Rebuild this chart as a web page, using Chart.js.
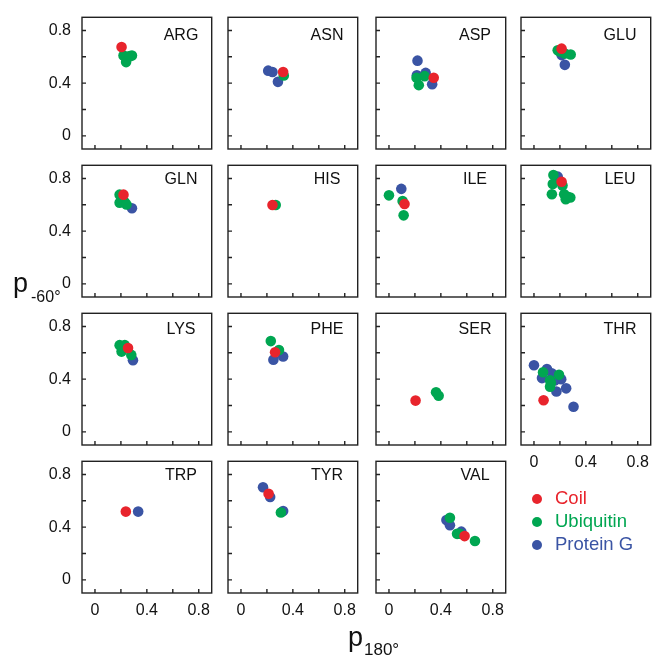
<!DOCTYPE html>
<html>
<head>
<meta charset="utf-8">
<script src="https://cdn.jsdelivr.net/npm/chart.js@4/dist/chart.umd.min.js"></script>
<style>
  body { margin: 0; background: #fff; width: 653px; height: 656px; overflow: hidden; position: relative;
         font-family: "Liberation Sans", Arial, Helvetica, sans-serif; color: #111; }
  canvas { position: absolute; }
  .txt { position: absolute; line-height: 1; white-space: nowrap; }
  .dot { position: absolute; width: 10px; height: 10px; border-radius: 50%; }
</style>
</head>
<body>
<script>
// residues, one panel each (row by row)
const residues = ['ARG', 'ASN', 'ASP', 'GLU', 'GLN', 'HIS', 'ILE', 'LEU',
                  'LYS', 'PHE', 'SER', 'THR', 'TRP', 'TYR', 'VAL'];

// [p180, p-60] pairs, index-aligned with residues
const coilPoints = [
  [[0.205, 0.674]],
  [[0.325, 0.485]],
  [[0.345, 0.441]],
  [[0.213, 0.662]],
  [[0.22, 0.677]],
  [[0.243, 0.598]],
  [[0.12, 0.606]],
  [[0.213, 0.775]],
  [[0.255, 0.636]],
  [[0.263, 0.604]],
  [[0.205, 0.237]],
  [[0.074, 0.24]],
  [[0.238, 0.518]],
  [[0.213, 0.654]],
  [[0.583, 0.332]]
];

const ubiquitinPoints = [
  [[0.22, 0.61], [0.25, 0.60], [0.285, 0.61], [0.24, 0.56], [0.27, 0.605]],
  [[0.33, 0.458]],
  [[0.213, 0.441], [0.275, 0.453], [0.23, 0.385]],
  [[0.183, 0.65], [0.238, 0.625], [0.283, 0.618], [0.2, 0.64]],
  [[0.19, 0.677], [0.19, 0.616], [0.23, 0.62], [0.243, 0.603]],
  [[0.268, 0.598]],
  [[0.0, 0.672], [0.105, 0.628], [0.113, 0.52]],
  [[0.15, 0.826], [0.145, 0.758], [0.22, 0.746], [0.138, 0.68], [0.233, 0.68],
   [0.245, 0.643], [0.28, 0.655], [0.26, 0.66]],
  [[0.19, 0.658], [0.23, 0.658], [0.205, 0.609], [0.28, 0.584], [0.21, 0.64]],
  [[0.23, 0.689], [0.293, 0.621]],
  [[0.363, 0.3], [0.383, 0.274]],
  [[0.07, 0.452], [0.124, 0.391], [0.193, 0.433], [0.124, 0.342], [0.13, 0.37]],
  [],
  [[0.308, 0.511]],
  [[0.47, 0.471], [0.525, 0.349], [0.663, 0.295], [0.545, 0.35]]
];

const proteinGPoints = [
  [],
  [[0.21, 0.495], [0.243, 0.485], [0.285, 0.41]],
  [[0.22, 0.571], [0.283, 0.478], [0.333, 0.392], [0.215, 0.46]],
  [[0.213, 0.613], [0.238, 0.539]],
  [[0.285, 0.574]],
  [],
  [[0.095, 0.721]],
  [[0.183, 0.814]],
  [[0.293, 0.543]],
  [[0.25, 0.548], [0.325, 0.572]],
  [],
  [[0.0, 0.506], [0.1, 0.477], [0.137, 0.445], [0.062, 0.408], [0.21, 0.4],
   [0.173, 0.306], [0.248, 0.33], [0.305, 0.191], [0.16, 0.39]],
  [[0.333, 0.518]],
  [[0.17, 0.703], [0.225, 0.629], [0.325, 0.523]],
  [[0.443, 0.454], [0.47, 0.415], [0.558, 0.366]]
];

const tickValues = [0, 0.2, 0.4, 0.6, 0.8];
const tickLabels = ['0', '', '0.4', '', '0.8'];
const seriesNames = ['Coil', 'Ubiquitin', 'Protein G'];

const COLORS = ['#e8242c', '#00a651', '#3a54a4'];
const FONT = '"Liberation Sans", Arial, Helvetica, sans-serif';

// panel geometry (plot box)
const colLeft = [82, 228, 376, 521];
const rowTop = [13, 161, 309, 457];
const rowBaseline = [40, 184.3, 334.3, 480.5];
const BOX_W = 133, BOX_H = 136;
const PAD_L = 45, PAD_B = 33;

function addText(str, left, top, size, color, extra) {
  const d = document.createElement('div');
  d.className = 'txt';
  d.textContent = str;
  d.style.left = left + 'px';
  d.style.top = top + 'px';
  d.style.fontSize = size + 'px';
  if (color) d.style.color = color;
  if (extra) Object.assign(d.style, extra);
  document.body.appendChild(d);
  return d;
}

// box + inward ticks
const frame = {
  id: 'frame',
  afterDraw(chart) {
    const { ctx, chartArea: a, scales: { x, y } } = chart;
    ctx.save();
    ctx.strokeStyle = '#222';
    ctx.lineWidth = 1.4;
    ctx.strokeRect(a.left, a.top, a.right - a.left, a.bottom - a.top);
    ctx.beginPath();
    x.ticks.forEach(t => {
      const p = x.getPixelForValue(t.value);
      ctx.moveTo(p, a.bottom);
      ctx.lineTo(p, a.bottom - 4);
    });
    y.ticks.forEach(t => {
      const p = y.getPixelForValue(t.value);
      ctx.moveTo(a.left, p);
      ctx.lineTo(a.left + 4, p);
    });
    ctx.stroke();
    ctx.restore();
  }
};

const toXY = arr => arr.map(([x, y]) => ({ x, y }));

// keep every plot box the same size whether labels show or not
function noPad(s) {
  s.paddingTop = 0;
  s.paddingBottom = 0;
  s.paddingLeft = 0;
  s.paddingRight = 0;
}

residues.forEach((name, i) => {
  const row = Math.floor(i / 4), col = i % 4;
  const boxL = colLeft[col], boxT = rowTop[row];
  const showY = col === 0;
  const showX = row === 3 || name === 'THR';

  const cv = document.createElement('canvas');
  cv.width = PAD_L + BOX_W + 2;
  cv.height = 1 + BOX_H + PAD_B;
  cv.style.left = (boxL - PAD_L) + 'px';
  cv.style.top = (boxT - 1) + 'px';
  document.body.appendChild(cv);

  const axisCommon = {
    type: 'linear',
    min: -0.1,
    max: 0.9,
    grid: { display: false, drawTicks: false },
    border: { display: false },
    afterBuildTicks: s => { s.ticks = tickValues.map(v => ({ value: v })); }
  };

  new Chart(cv, {
    type: 'scatter',
    data: {
      datasets: [
        { label: seriesNames[0], data: toXY(coilPoints[i]), backgroundColor: COLORS[0] },
        { label: seriesNames[1], data: toXY(ubiquitinPoints[i]), backgroundColor: COLORS[1] },
        { label: seriesNames[2], data: toXY(proteinGPoints[i]), backgroundColor: COLORS[2] }
      ]
    },
    options: {
      responsive: false,
      animation: false,
      devicePixelRatio: 1,
      layout: { padding: { top: 1, right: 2, left: 0, bottom: 0 } },
      plugins: { legend: { display: false }, tooltip: { enabled: false } },
      elements: { point: { radius: 5.3, hoverRadius: 5.3, borderWidth: 0 } },
      scales: {
        x: {
          ...axisCommon,
          afterFit: s => { s.height = PAD_B; noPad(s); },
          ticks: {
            display: showX, autoSkip: false, maxRotation: 0, padding: 8,
            color: '#111', font: { size: 16, family: FONT },
            callback: (v, idx) => tickLabels[idx]
          }
        },
        y: {
          ...axisCommon,
          afterFit: s => { s.width = PAD_L; noPad(s); },
          ticks: {
            display: showY, autoSkip: false, padding: 11,
            color: '#111', font: { size: 16, family: FONT },
            callback: (v, idx) => tickLabels[idx]
          }
        }
      }
    },
    plugins: [frame]
  });

  // panel name
  addText(name, boxL + 99 - 50, rowBaseline[row] - 13.5, 16, '#111',
          { width: '100px', textAlign: 'center' });
});

// axis titles
addText('p', 13, 270, 27);
addText('-60°', 31, 288.5, 16);
addText('p', 348, 623.6, 27);
addText('180°', 364, 640.6, 17);

// legend
const legendY = [499, 521.7, 545];
seriesNames.forEach((s, k) => {
  const d = document.createElement('div');
  d.className = 'dot';
  d.style.background = COLORS[k];
  d.style.left = '532px';
  d.style.top = (legendY[k] - 5) + 'px';
  document.body.appendChild(d);
  addText(s, 555, legendY[k] + 6 - 15.66, 18.5, COLORS[k]);
});
</script>
</body>
</html>
